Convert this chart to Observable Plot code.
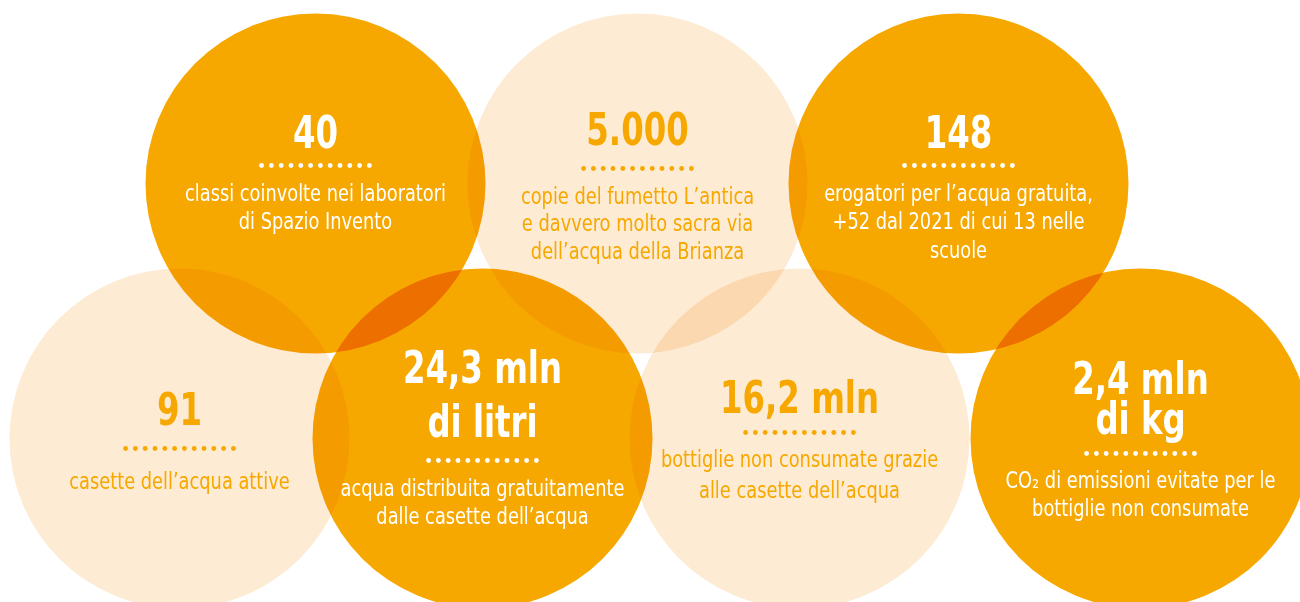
<!DOCTYPE html>
<html>
<head>
<meta charset="utf-8">
<script src="https://cdn.jsdelivr.net/npm/d3@7"></script>
<script src="https://cdn.jsdelivr.net/npm/@observablehq/plot@0.6"></script>
<style>
  html, body { margin: 0; padding: 0; background: #ffffff; overflow: hidden; }
  #chart svg { display: block; overflow: hidden; }
</style>
</head>
<body>
<div id="chart"></div>
<script>
// ---- data ----
const figures = ["40", "5.000", "148", "91", "24,3 mln\ndi litri", "16,2 mln", "2,4 mln\ndi kg"];
const captions = [
  "classi coinvolte nei laboratori\ndi Spazio Invento",
  "copie del fumetto L’antica\ne davvero molto sacra via\ndell’acqua della Brianza",
  "erogatori per l’acqua gratuita,\n+52 dal 2021 di cui 13 nelle\nscuole",
  "casette dell’acqua attive",
  "acqua distribuita gratuitamente\ndalle casette dell’acqua",
  "bottiglie non consumate grazie\nalle casette dell’acqua",
  "CO₂ di emissioni evitate per le\nbottiglie non consumate"
];
const tones = ["dark", "light", "dark", "light", "dark", "light", "dark"];

// ---- layout (pixels) ----
const cx = [315, 637, 958, 179, 482, 799, 1140];
const cy = [183, 183, 183, 438, 438, 438, 438];
const radius = 170;
const figBase = [147, 144, 147, 424, 436, 412, 433];   // baseline of last figure line
const figLH = [50, 50, 50, 50, 54, 50, 40];
const dotsY = [165, 168, 165, 448, 460, 432, 453];
const capBase = [200, 203, 200, 488, 495, 466, 487];   // baseline of first caption line
const capLH = [28, 27.5, 28.5, 28, 28, 31, 28];
const nDots = 12, dotGap = 9.8;

const DARK = "#F6A800", LIGHT = "#FDEBD4";
const FONT = "'Liberation Sans Narrow', 'Arial Narrow', 'DejaVu Sans Condensed', sans-serif";
const FIG_SIZE = 45, CAP_SIZE = 22.5;
const FIG_SQUEEZE = 0.8, CAP_SQUEEZE = 0.88;

const circles = tones.map((t, i) => ({tone: t, x: cx[i], y: cy[i], r: radius}));
const rows = tones.map((t, i) => {
  const nCap = captions[i].split("\n").length;
  return {
    tone: t, figure: figures[i], caption: captions[i], x: cx[i],
    figY: figBase[i], capY: capBase[i] + (nCap - 1) * capLH[i]
  };
});
const dots = [];
tones.forEach((t, i) => {
  for (let k = 0; k < nDots; ++k) dots.push({tone: t, x: cx[i] + (k - (nDots - 1) / 2) * dotGap, y: dotsY[i]});
});

const ink = t => t === "dark" ? "white" : DARK;

const textMarks = [];
rows.forEach((row, i) => {
  textMarks.push(Plot.text([row], {
    x: "x", y: "figY", text: "figure", lineAnchor: "bottom",
    lineHeight: figLH[i] / FIG_SIZE, fill: ink(row.tone),
    fontSize: FIG_SIZE, fontWeight: "bold", fontFamily: FONT
  }));
  textMarks.push(Plot.text([row], {
    x: "x", y: "capY", text: "caption", lineAnchor: "bottom",
    lineHeight: capLH[i] / CAP_SIZE, fill: ink(row.tone),
    fontSize: CAP_SIZE, fontFamily: FONT
  }));
});

const plot = Plot.plot({
  width: 1300,
  height: 602,
  margin: 0,
  style: {background: "white", fontFamily: FONT},
  x: {domain: [0, 1300], range: [0, 1300], axis: null},
  y: {domain: [0, 602], range: [0, 602], axis: null},
  r: {type: "identity"},
  marks: [
    Plot.dot(circles, {x: "x", y: "y", r: "r", fill: d => d.tone === "dark" ? DARK : LIGHT, stroke: null, mixBlendMode: "multiply"}),
    Plot.dot(dots, {filter: d => d.tone === "dark", x: "x", y: "y", r: 2.4, fill: "white", stroke: null}),
    Plot.dot(dots, {filter: d => d.tone === "light", x: "x", y: "y", r: 2.4, fill: DARK, stroke: null}),
    ...textMarks
  ]
});

// condense the lettering horizontally (the reference uses a condensed typeface)
function squeeze(selector, s) {
  d3.select(plot).selectAll(selector).each(function () {
    const el = d3.select(this);
    let tr = el.attr("transform");
    if (!tr) {
      tr = `translate(${+el.attr("x") || 0},${+el.attr("y") || 0})`;
      el.attr("x", null).attr("y", null);
    }
    el.attr("transform", `${tr} scale(${s},1)`);
  });
}
squeeze(`g[font-size="${FIG_SIZE}"] text`, FIG_SQUEEZE);
squeeze(`g[font-size="${CAP_SIZE}"] text`, CAP_SQUEEZE);

document.getElementById("chart").appendChild(plot);
</script>
</body>
</html>
